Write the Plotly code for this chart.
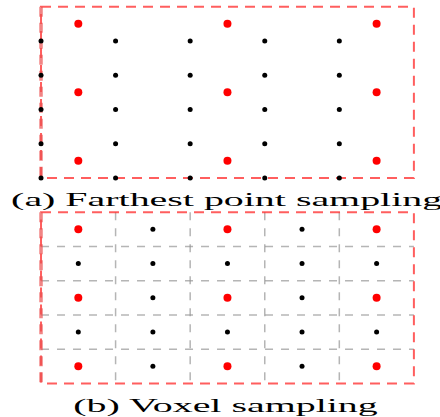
import plotly.graph_objects as go

# ---- data (grid units) ----
grid_cols = [0, 1, 2, 3, 4]
grid_rows = [0, 1, 2, 3, 4]
fps_cols = [0.5, 2.5, 4.5]
fps_rows = [-0.5, 1.5, 3.5]
voxel_cols = [0.5, 1.5, 2.5, 3.5, 4.5]
voxel_rows = [5.5, 6.5, 7.5, 8.5, 9.5]
voxel_red_idx = [0, 2, 4]
voxel_lines_x = [1, 2, 3, 4]
voxel_lines_y = [6, 7, 8, 9]
box_a = (0, -1, 5, 4)      # x0, y0, x1, y1
box_b = (0, 5, 5, 10)
title_a = "(a) Farthest point sampling"
title_b = "(b) Voxel sampling"

fig = go.Figure()

bx = [c for r in grid_rows for c in grid_cols]
by = [r for r in grid_rows for c in grid_cols]
fig.add_trace(go.Scatter(x=bx, y=by, mode="markers",
                         marker=dict(color="black", size=5), hoverinfo="skip"))
rx = [c for r in fps_rows for c in fps_cols]
ry = [r for r in fps_rows for c in fps_cols]
fig.add_trace(go.Scatter(x=rx, y=ry, mode="markers",
                         marker=dict(color="red", size=8), hoverinfo="skip"))

vbx, vby, vrx, vry = [], [], [], []
for i, r in enumerate(voxel_rows):
    for j, c in enumerate(voxel_cols):
        if i in voxel_red_idx and j in voxel_red_idx:
            vrx.append(c); vry.append(r)
        else:
            vbx.append(c); vby.append(r)
fig.add_trace(go.Scatter(x=vbx, y=vby, mode="markers",
                         marker=dict(color="black", size=5), hoverinfo="skip"))
fig.add_trace(go.Scatter(x=vrx, y=vry, mode="markers",
                         marker=dict(color="red", size=8), hoverinfo="skip"))

gray = dict(color="rgba(150,150,150,0.7)", width=1.5, dash="8px,8px")
for vx in voxel_lines_x:
    fig.add_shape(type="line", x0=vx, x1=vx, y0=box_b[1], y1=box_b[3],
                  line=gray, layer="below")
for vy in voxel_lines_y:
    fig.add_shape(type="line", x0=box_b[0], x1=box_b[2], y0=vy, y1=vy,
                  line=gray, layer="below")

red = dict(color="rgba(255,40,40,0.75)", width=2, dash="10px,7px")
for (x0, y0, x1, y1) in (box_a, box_b):
    fig.add_shape(type="rect", x0=x0, x1=x1, y0=y0, y1=y1, line=red, layer="below")
    fig.add_shape(type="line", x0=x0, x1=x0, y0=y0, y1=y1,
                  line=dict(color="rgba(235,80,80,0.7)", width=3.5, dash="10px,6px"),
                  layer="below")

fig.add_annotation(x=2.5, y=4.65, xref="x", yref="y", text=title_a, showarrow=False,
                   font=dict(family="Liberation Serif", size=19, color="black"))
fig.add_annotation(x=2.48, y=10.65, xref="x", yref="y", text=title_b, showarrow=False,
                   font=dict(family="Liberation Serif", size=19, color="black"))

fig.update_xaxes(range=[-0.55, 5.35], visible=False)
fig.update_yaxes(range=[10.98, -1.197], visible=False)
fig.update_layout(width=440, height=417, margin=dict(l=0, r=0, t=0, b=0),
                  showlegend=False, plot_bgcolor="white", paper_bgcolor="white")

post = """
document.body.style.margin = '0';
var gd = document.getElementById('{plot_id}');
gd.querySelectorAll('text.annotation-text').forEach(function (t) {
  var w = t.getComputedTextLength();
  t.setAttribute('textLength', (w * 2.1).toFixed(1));
  t.setAttribute('lengthAdjust', 'spacingAndGlyphs');
});
"""
fig.write_html("out.html", post_script=post, config={"displayModeBar": False})
